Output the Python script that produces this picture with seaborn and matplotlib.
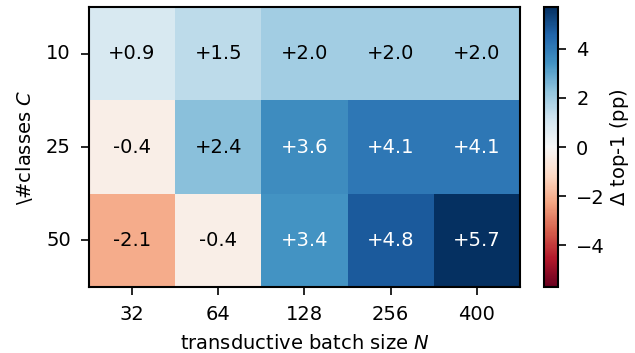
import numpy as np
import pandas as pd
import seaborn as sns
import matplotlib.pyplot as plt

# data
batch_sizes = ['32', '64', '128', '256', '400']
num_classes = ['10', '25', '50']
delta_c10 = [0.9, 1.5, 2.0, 2.0, 2.0]
delta_c25 = [-0.4, 2.4, 3.6, 4.1, 4.1]
delta_c50 = [-2.1, -0.4, 3.4, 4.8, 5.7]

df = pd.DataFrame([delta_c10, delta_c25, delta_c50], index=num_classes, columns=batch_sizes)
lim = np.abs(df.values).max()

plt.rcParams['font.size'] = 14
fig = plt.figure(figsize=(6.35, 3.53), dpi=100)
ax = fig.add_axes([0.14, 0.187, 0.679, 0.793])
cax = fig.add_axes([0.857, 0.187, 0.022, 0.793])

sns.heatmap(df, ax=ax, cbar_ax=cax, cmap='RdBu', vmin=-lim, vmax=lim, center=0,
            annot=True, fmt='+.1f', annot_kws={'size': 14},
            cbar_kws={'label': r'$\Delta$ top-1 (pp)'})

# dark text in pure black like the original
for t in ax.texts:
    if t.get_color() != 'w':
        t.set_color('black')

ax.set_xlabel('transductive batch size $N$', labelpad=7)
ax.set_ylabel(r'\#classes $C$', labelpad=8)
ax.tick_params(axis='y', rotation=0)
ax.tick_params(length=6, width=1.2, pad=7)
for s in ax.spines.values():
    s.set_visible(True)
    s.set_linewidth(1.5)
cax.tick_params(length=6, width=1.2, pad=7)
cax.set_yticks([-4, -2, 0, 2, 4])
cb = ax.collections[0].colorbar
cb.outline.set_visible(True)
cb.outline.set_linewidth(1.5)
cb.outline.set_edgecolor('black')
cb.set_label(r'$\Delta$ top-1 (pp)', labelpad=2)

fig.savefig('out.png', dpi=100)
